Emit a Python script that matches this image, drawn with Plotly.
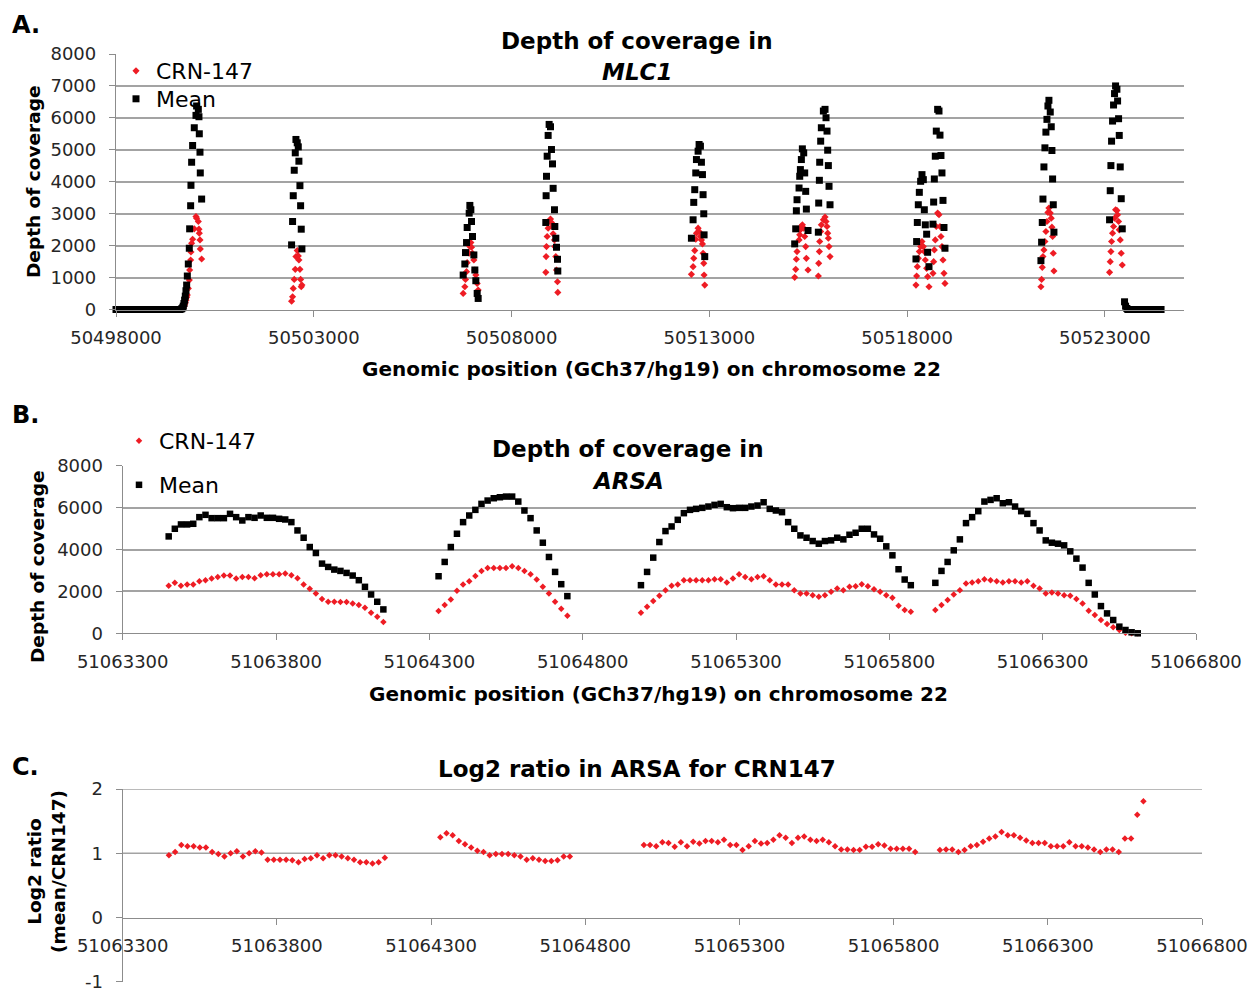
import plotly.graph_objects as go

W, H = 1256, 992
OX, OY = 8, 8  # page body margin of the html page

# ---------------- Panel A: MLC1 (chr22) ----------------
mlc1_ticks = [50498000, 50503000, 50508000, 50513000, 50518000, 50523000]

# zero-depth flank upstream of the gene
mlc1_flank_left_pos = [50498000, 50498060, 50498120, 50498180, 50498240, 50498300, 50498360,
                       50498420, 50498480, 50498540, 50498600, 50498660, 50498720, 50498780,
                       50498840, 50498900, 50498960, 50499020, 50499080, 50499140, 50499200,
                       50499260, 50499320, 50499380, 50499440, 50499500, 50499560, 50499620]
mlc1_flank_left_mean = [0, 0, 0, 0, 0, 0, 0, 0, 0, 0, 0, 0, 0, 0,
                        0, 0, 0, 0, 0, 0, 0, 0, 0, 0, 0, 0, 0, 0]

# exon positions (shared by both series)
mlc1_exon_pos = [
    # exon cluster 1
    50499659, 50499685, 50499701, 50499718, 50499735, 50499752, 50499769, 50499786, 50499803,
    50499828, 50499853, 50499862, 50499887, 50499895, 50499912, 50499937, 50499979, 50500022,
    50500038, 50500081, 50500097, 50500106, 50500123, 50500131, 50500165,
    # cluster 2
    50502439, 50502464, 50502481, 50502506, 50502532, 50502549, 50502582, 50502608, 50502624,
    50502650, 50502667, 50502683, 50502700,
    # cluster 3
    50506777, 50506819, 50506836, 50506862, 50506878, 50506929, 50506946, 50506971, 50506988,
    50507013, 50507047, 50507072, 50507097, 50507131, 50507156,
    # cluster 4
    50508866, 50508874, 50508883, 50508900, 50508925, 50508950, 50508984, 50509009, 50509035,
    50509051, 50509085, 50509094, 50509119, 50509136, 50509161, 50509169,
    # cluster 5
    50512547, 50512589, 50512606, 50512631, 50512657, 50512674, 50512716, 50512741, 50512775,
    50512800, 50512826, 50512842, 50512859, 50512867, 50512884,
    # cluster 6a
    50515158, 50515184, 50515200, 50515217, 50515268, 50515285, 50515302, 50515327, 50515352,
    50515386, 50515411, 50515436, 50515453, 50515495,
    # cluster 6b
    50515756, 50515765, 50515782, 50515790, 50515815, 50515832, 50515883, 50515925, 50515950,
    50515975, 50515992, 50516009, 50516026, 50516051,
    # cluster 7a
    50518224, 50518241, 50518258, 50518283, 50518309, 50518342, 50518376, 50518410, 50518435,
    50518460, 50518494, 50518519, 50518553,
    # cluster 7b
    50518654, 50518671, 50518688, 50518713, 50518738, 50518772, 50518806, 50518831, 50518856,
    50518881, 50518907, 50518932, 50518957,
    # cluster 8
    50521383, 50521400, 50521417, 50521434, 50521459, 50521484, 50521509, 50521535, 50521560,
    50521585, 50521619, 50521644, 50521661, 50521678, 50521695, 50521712,
    # cluster 9
    50523118, 50523135, 50523152, 50523169, 50523194, 50523219, 50523244, 50523270, 50523304,
    50523321, 50523346, 50523363, 50523388, 50523413, 50523439,
]

mlc1_exon_mean = [
    21, 52, 105, 189, 293, 419, 587, 765, 1048, 1425, 1918, 2526, 3249, 3888, 4611, 5135, 5691,
    6078, 6372, 6267, 6036, 5502, 4926, 4276, 3458,
    2023, 2756, 3563, 4360, 4905, 5324, 5219, 5093, 4643, 3878, 3249, 2515, 1897,
    1079, 1425, 1782, 2096, 2568, 3018, 3259, 3123, 2756, 2285, 1708, 1237, 901, 503, 346,
    2725, 3563, 4171, 4800, 5450, 5795, 5722, 5009, 4559, 3794, 3123, 2599, 2232, 1949, 1572, 1205,
    2232, 2809, 3354, 3752, 4276, 4695, 4957, 5167, 5114, 4611, 4224, 3595, 2997, 2337, 1656,
    2054, 2526, 3092, 3437, 3804, 4171, 4381, 4695, 5030, 4905, 4276, 3699, 3144, 2473,
    2421, 3333, 4045, 4611, 5271, 5691, 6215, 6267, 6005, 5586, 4988, 4506, 3857, 3280,
    1582, 2128, 2725, 3280, 3668, 4014, 4223, 4066, 3123, 2651, 2358, 1792, 1341,
    2672, 3364, 4087, 4800, 5586, 6267, 6215, 5460, 4821, 4276, 3416, 2568, 1918,
    1530, 2107, 2725, 3458, 4464, 5062, 5554, 5953, 6372, 6550, 6183, 5722, 4978, 4087, 3280, 2421,
    2809, 3720, 4506, 5271, 5900, 6403, 6760, 7000, 6896, 6529, 5974, 5450, 4464, 3469, 2526,
]

mlc1_exon_crn = [
    10, 25, 50, 95, 145, 210, 290, 380, 451, 660, 922, 1237, 1551, 1800, 2075, 2201, 2526,
    2913, 2861, 2756, 2515, 2389, 2180, 1897, 1582,
    262, 398, 660, 943, 1258, 1656, 1844, 1677, 1551, 1258, 943, 713, 765,
    503, 713, 943, 1184, 1467, 1761, 1970, 2096, 1949, 1761, 1551, 1237, 1079, 817, 608,
    1163, 1656, 1970, 2285, 2547, 2756, 2830, 2725, 2599, 2368, 2180, 1970, 1656, 1237, 870, 534,
    1100, 1341, 1603, 1844, 2201, 2389, 2547, 2442, 2285, 2180, 2054, 1761, 1446, 1079, 765,
    1006, 1258, 1572, 1813, 2180, 2337, 2494, 2599, 2651, 2547, 2285, 1970, 1603, 1237,
    1048, 1446, 1813, 2128, 2442, 2651, 2809, 2893, 2756, 2599, 2389, 2232, 1970, 1656,
    765, 1048, 1341, 1603, 1813, 1970, 2128, 1970, 1813, 1551, 1289, 1027, 713,
    1132, 1499, 1865, 2180, 2599, 3018, 2966, 2599, 2285, 1970, 1551, 1132, 817,
    713, 943, 1320, 1656, 1865, 2128, 2442, 2756, 3039, 3175, 3018, 2861, 2578, 2285, 1761, 1205,
    1163, 1499, 1813, 2128, 2389, 2599, 2861, 3123, 3102, 2966, 2756, 2494, 2180, 1761, 1394,
]

# downstream tail of the gene
mlc1_flank_right_pos = [50523497, 50523523, 50523556, 50523580, 50523640, 50523700, 50523760,
                        50523820, 50523880, 50523940, 50524000, 50524060, 50524120, 50524180,
                        50524240, 50524300, 50524360, 50524420]
mlc1_flank_right_mean = [241, 105, 31, 0, 0, 0, 0, 0, 0, 0, 0, 0, 0, 0, 0, 0, 0, 0]

# ---------------- Panels B and C: ARSA ----------------
arsa_ticks = [51063300, 51063800, 51064300, 51064800, 51065300, 51065800, 51066300, 51066800]

arsa_pos = [
    51063450, 51063470, 51063490, 51063510, 51063530, 51063550, 51063570, 51063590, 51063610,
    51063630, 51063650, 51063670, 51063690, 51063710, 51063730, 51063750, 51063770, 51063790,
    51063810, 51063830, 51063850, 51063870, 51063890, 51063910, 51063930, 51063950, 51063970,
    51063990, 51064010, 51064030, 51064050, 51064070, 51064090, 51064110, 51064130, 51064150,
    51064330, 51064350, 51064370, 51064390, 51064410, 51064430, 51064450, 51064470, 51064490,
    51064510, 51064530, 51064550, 51064570, 51064590, 51064610, 51064630, 51064650, 51064670,
    51064690, 51064710, 51064730, 51064750,
    51064990, 51065010, 51065030, 51065050, 51065070, 51065090, 51065110, 51065130, 51065150,
    51065170, 51065190, 51065210, 51065230, 51065250, 51065270, 51065290, 51065310, 51065330,
    51065350, 51065370, 51065390, 51065410, 51065430, 51065450, 51065470, 51065490, 51065510,
    51065530, 51065550, 51065570, 51065590, 51065610, 51065630, 51065650, 51065670, 51065690,
    51065710, 51065730, 51065750, 51065770, 51065790, 51065810, 51065830, 51065850, 51065870,
    51065950, 51065970, 51065990, 51066010, 51066030, 51066050, 51066070, 51066090, 51066110,
    51066130, 51066150, 51066170, 51066190, 51066210, 51066230, 51066250, 51066270, 51066290,
    51066310, 51066330, 51066350, 51066370, 51066390, 51066410, 51066430, 51066450, 51066470,
    51066490, 51066510, 51066530, 51066550, 51066570, 51066590, 51066610,
]

arsa_mean = [
    4625, 4990, 5196, 5196, 5227, 5544, 5655, 5496, 5496, 5496, 5702, 5544, 5386, 5544, 5512,
    5623, 5512, 5512, 5465, 5433, 5306, 4910, 4562, 4118, 3833, 3326, 3168, 3041, 2978, 2883,
    2756, 2534, 2218, 1853, 1505, 1140,
    2724, 3406, 4118, 4752, 5306, 5623, 5892, 6178, 6336, 6447, 6494, 6526, 6526, 6288, 5861,
    5496, 4910, 4324, 3643, 2930, 2344, 1774,
    2297, 2930, 3612, 4356, 4879, 5100, 5417, 5734, 5892, 5940, 5988, 6051, 6130, 6178, 6019,
    5972, 5988, 5988, 6051, 6098, 6257, 5940, 5861, 5782, 5306, 4990, 4673, 4562, 4404, 4277,
    4404, 4435, 4562, 4483, 4704, 4800, 4990, 4990, 4720, 4514, 4150, 3722, 3057, 2566, 2297,
    2408, 2978, 3406, 3960, 4483, 5259, 5544, 5829, 6288, 6368, 6447, 6209, 6257, 6051, 5829,
    5702, 5259, 4910, 4435, 4324, 4277, 4198, 3912, 3564, 3136, 2408, 1853, 1299, 950, 634,
    317, 158, 48, 0,
]

arsa_crn = [
    2265, 2408, 2265, 2328, 2328, 2487, 2534, 2614, 2693, 2756, 2756, 2614, 2693, 2693, 2629,
    2772, 2820, 2820, 2820, 2851, 2772, 2629, 2328, 2123, 1901, 1632, 1505, 1505, 1489, 1489,
    1426, 1346, 1220, 982, 792, 539,
    1061, 1346, 1616, 2028, 2328, 2487, 2740, 2978, 3120, 3120, 3120, 3120, 3200, 3120, 2978,
    2820, 2566, 2218, 1901, 1505, 1172, 840,
    982, 1267, 1536, 1790, 2059, 2265, 2328, 2534, 2534, 2534, 2534, 2534, 2582, 2582, 2424,
    2614, 2820, 2693, 2582, 2693, 2724, 2534, 2328, 2328, 2328, 2059, 1901, 1901, 1822, 1742,
    1822, 1980, 2138, 2059, 2218, 2249, 2344, 2249, 2107, 1980, 1822, 1695, 1315, 1109, 1030,
    1109, 1346, 1584, 1853, 2059, 2376, 2424, 2487, 2582, 2534, 2487, 2424, 2487, 2487, 2424,
    2487, 2265, 2138, 1901, 1948, 1901, 1822, 1790, 1632, 1426, 1077, 871, 634, 444, 285,
    158, 32, 0, 0,
]

arsa_log2 = [
    0.97, 1.02, 1.13, 1.11, 1.11, 1.09, 1.09, 1.02, 0.99, 0.95, 1.00, 1.03, 0.95, 1.00, 1.03,
    1.01, 0.90, 0.90, 0.90, 0.90, 0.89, 0.86, 0.91, 0.92, 0.97, 0.92, 0.97, 0.97, 0.95, 0.92,
    0.90, 0.86, 0.86, 0.84, 0.86, 0.93,
    1.25, 1.31, 1.28, 1.19, 1.14, 1.09, 1.04, 1.02, 0.97, 0.99, 0.99, 0.99, 0.97, 0.95, 0.90,
    0.92, 0.90, 0.88, 0.88, 0.89, 0.95, 0.95,
    1.13, 1.13, 1.11, 1.17, 1.16, 1.10, 1.17, 1.11, 1.18, 1.15, 1.19, 1.19, 1.17, 1.21, 1.13,
    1.13, 1.05, 1.11, 1.19, 1.15, 1.16, 1.21, 1.28, 1.24, 1.16, 1.24, 1.26, 1.21, 1.19, 1.21,
    1.17, 1.11, 1.06, 1.06, 1.05, 1.05, 1.10, 1.10, 1.14, 1.12, 1.07, 1.07, 1.07, 1.07, 1.02,
    1.05, 1.06, 1.06, 1.02, 1.05, 1.11, 1.13, 1.18, 1.23, 1.26, 1.33, 1.28, 1.28, 1.24, 1.20,
    1.16, 1.16, 1.16, 1.11, 1.11, 1.11, 1.17, 1.11, 1.11, 1.09, 1.06, 1.02, 1.06, 1.06, 1.02,
    1.23, 1.23, 1.60, 1.81,
]
log2_ticks = [-1, 0, 1, 2]
log2_grid = [1, 2]

# ---------------- styling ----------------
FONT = "DejaVu Sans"
GRID = "#a3a3a3"
AXIS = "#8c8c8c"
RED = "#ee1c24"
TICKC = "#262626"


def fx(p):
    return (p - OX) / W


def fy(p):
    return 1 - (p - OY) / H


fig = go.Figure()

# Panel A
fig.add_trace(go.Scatter(x=mlc1_exon_pos, y=mlc1_exon_crn, mode="markers", name="CRN-147",
                         marker=dict(symbol="diamond", size=5.5, color=RED),
                         xaxis="x", yaxis="y", legend="legend", cliponaxis=False))
fig.add_trace(go.Scatter(x=mlc1_flank_left_pos + mlc1_exon_pos + mlc1_flank_right_pos,
                         y=mlc1_flank_left_mean + mlc1_exon_mean + mlc1_flank_right_mean,
                         mode="markers", name="Mean",
                         marker=dict(symbol="square", size=7, color="black"),
                         xaxis="x", yaxis="y", legend="legend3", cliponaxis=False))
# Panel B
fig.add_trace(go.Scatter(x=arsa_pos, y=arsa_crn, mode="markers", name="CRN-147",
                         marker=dict(symbol="diamond", size=5, color=RED),
                         xaxis="x2", yaxis="y2", legend="legend2", cliponaxis=False))
fig.add_trace(go.Scatter(x=arsa_pos, y=arsa_mean, mode="markers", name="Mean",
                         marker=dict(symbol="square", size=6.5, color="black"),
                         xaxis="x2", yaxis="y2", legend="legend4", cliponaxis=False))
# Panel C
fig.add_trace(go.Scatter(x=arsa_pos, y=arsa_log2, mode="markers", name="log2",
                         marker=dict(symbol="diamond", size=5, color=RED),
                         xaxis="x3", yaxis="y3", showlegend=False, cliponaxis=False))

tickfont = dict(family=FONT, size=18, color=TICKC)
common = dict(showline=True, linecolor=AXIS, linewidth=1.3, ticks="outside", ticklen=6,
              tickcolor=AXIS, tickwidth=1.3, zeroline=False, tickfont=tickfont,
              automargin=False)


def xaxis(left, right, rng, ticks, **kw):
    d = dict(domain=[fx(left), fx(right)], range=rng, tickvals=ticks,
             ticktext=[str(t) for t in ticks], showgrid=False, ticklabelstandoff=6)
    d.update(common)
    d.update(kw)
    return d


def yaxis(bottom, top, rng, ticks, grid=True, **kw):
    d = dict(domain=[fy(bottom), fy(top)], range=rng, tickvals=ticks,
             ticktext=[str(t) for t in ticks], showgrid=grid, gridcolor=GRID, gridwidth=1.5,
             ticklabelstandoff=9)
    d.update(common)
    d.update(kw)
    return d


def legend(left, top):
    return dict(x=fx(left), y=fy(top), xanchor="left", yanchor="top",
                bgcolor="rgba(0,0,0,0)", font=dict(family=FONT, size=22, color="black"))


fig.update_layout(
    width=W, height=H, margin=dict(l=0, r=0, t=0, b=0, autoexpand=False),
    paper_bgcolor="white", plot_bgcolor="white",
    xaxis=xaxis(116, 1184, [50498000, 50525000], mlc1_ticks, anchor="y"),
    yaxis=yaxis(309.5, 54, [0, 8000], [0, 1000, 2000, 3000, 4000, 5000, 6000, 7000, 8000],
                anchor="x"),
    xaxis2=xaxis(122.7, 1196, [51063300, 51066800], arsa_ticks, anchor="y2"),
    yaxis2=yaxis(633.3, 465.7, [0, 8000], [0, 2000, 4000, 6000, 8000], anchor="x2"),
    xaxis3=xaxis(122.7, 1202, [51063300, 51066800], arsa_ticks, anchor="free",
                 position=fy(917.7)),
    yaxis3=yaxis(981.7, 789, [-1, 2], log2_ticks, grid=False, anchor="x3"),
    legend=legend(116, 50),
    legend3=legend(116, 78),
    legend2=legend(119, 420),
    legend4=legend(119, 464),
)

for g in log2_grid:
    fig.add_shape(type="line", xref="x3 domain", yref="y3", x0=0, x1=1, y0=g, y1=g,
                  line=dict(color=GRID, width=1.5), layer="below")


def ann(text, x, y, size, angle=0, anchor="center"):
    fig.add_annotation(text=text, xref="paper", yref="paper", x=fx(x), y=fy(y),
                       xanchor=anchor, yanchor="middle", showarrow=False, textangle=angle,
                       font=dict(family=FONT, size=size, color="black"))


ann("<b>A.</b>", 10, 25, 24, anchor="left")
ann("<b>B.</b>", 10, 415, 24, anchor="left")
ann("<b>C.</b>", 10, 767, 24, anchor="left")

ann("<b>Depth of coverage in</b>", 637, 41, 23)
ann("<b><i>MLC1</i></b>", 637, 72, 23)
ann("<b>Depth of coverage in</b>", 628, 449, 23)
ann("<b><i>ARSA</i></b>", 628, 481, 23)
ann("<b>Log2 ratio in ARSA for CRN147</b>", 637, 769, 23)

ann("<b>Genomic position (GCh37/hg19) on chromosome 22</b>", 651, 369, 20)
ann("<b>Genomic position (GCh37/hg19) on chromosome 22</b>", 658, 694, 20)

ann("<b>Depth of coverage</b>", 33, 182, 18.5, angle=-90)
ann("<b>Depth of coverage</b>", 37, 567, 18.5, angle=-90)
ann("<b>Log2 ratio<br>(mean/CRN147)</b>", 46, 872, 18.5, angle=-90)

fig.write_html("out.html", config={"displayModeBar": False})
